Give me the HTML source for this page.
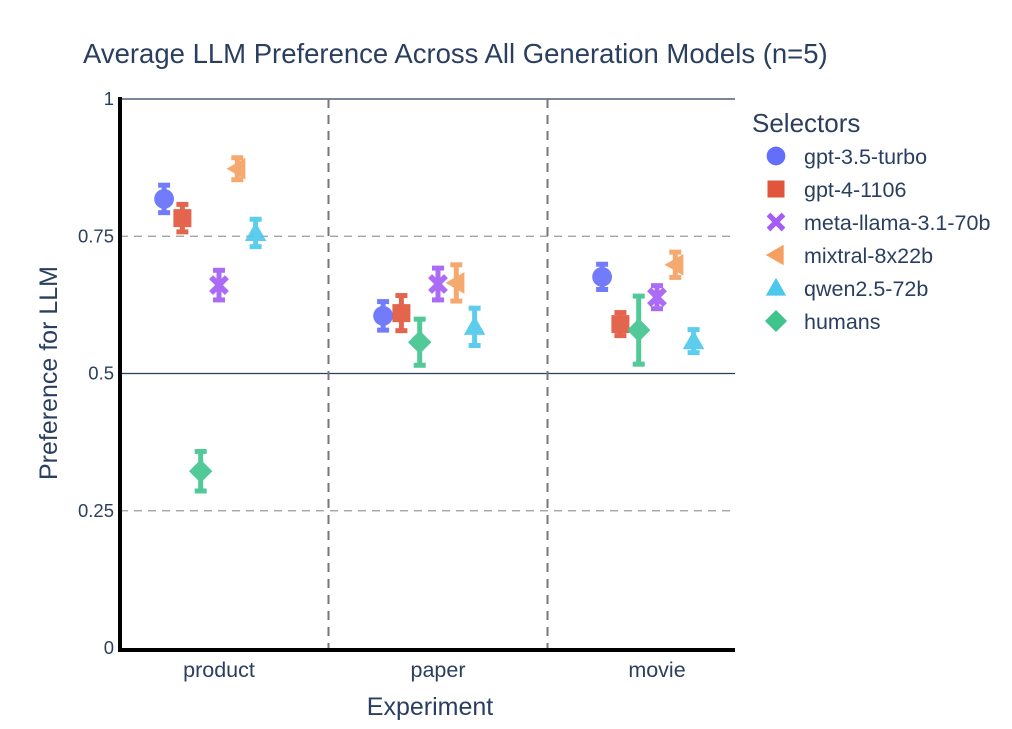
<!DOCTYPE html>
<html><head><meta charset="utf-8"><style>
body{margin:0;background:#fff;font-family:"Liberation Sans",Arial,sans-serif;}
svg text{font-family:"Liberation Sans",Arial,sans-serif;fill:#2a3f5f;}
</style></head><body>
<svg id="chart" width="1012" height="724" xmlns="http://www.w3.org/2000/svg">
<text x="83" y="63" font-size="27.5">Average LLM Preference Across All Generation Models (n=5)</text>
<g id="grid"></g>
<g id="marks"></g>
<g id="legend"></g>
<text x="430" y="715" font-size="25" text-anchor="middle">Experiment</text>
<text transform="translate(57,373) rotate(-90)" font-size="25" text-anchor="middle">Preference for LLM</text>
</svg>
<script>
const categories=["product","paper","movie"];
const series=["gpt-3.5-turbo","gpt-4-1106","meta-llama-3.1-70b","mixtral-8x22b","qwen2.5-72b","humans"];
const gpt35=[0.818,0.605,0.676];
const gpt35Err=[0.025,0.026,0.023];
const gpt4=[0.783,0.610,0.590];
const gpt4Err=[0.025,0.032,0.021];
const llama=[0.661,0.663,0.639];
const llamaErr=[0.027,0.029,0.021];
const mixtral=[0.873,0.665,0.698];
const mixtralErr=[0.020,0.033,0.023];
const qwen=[0.756,0.585,0.559];
const qwenErr=[0.025,0.034,0.021];
const humans=[0.322,0.557,0.579];
const humansErr=[0.036,0.042,0.062];
const yTicks=[0,0.25,0.5,0.75,1];
const yTickLabels=["0","0.25","0.5","0.75","1"];

const NS="http://www.w3.org/2000/svg";
const X0=120,X1=735,Y0=648,Y1=99;
const y=v=>Y0-(Y0-Y1)*v;
const catW=219;
const xc=i=>219+catW*i;
function mk(t,a,p){const e=document.createElementNS(NS,t);for(const k in a)e.setAttribute(k,a[k]);p.appendChild(e);return e;}
const grid=document.getElementById('grid'),marks=document.getElementById('marks'),legend=document.getElementById('legend');
yTicks.forEach((t,i)=>{
  const solid=(t===1||t===0.5);
  if(t>0){const l=mk('line',{x1:X0,x2:X1,y1:y(t),y2:y(t),stroke:solid?'#2a3f5f':'#999','stroke-width':1.2,'stroke-dasharray':solid?'':'8,6'},grid);
  
  }
  const tx=mk('text',{x:114,y:y(t)+6,'font-size':18.5,'text-anchor':'end'},grid);tx.textContent=yTickLabels[i];
  
  
});
for(let i=1;i<3;i++){const l=mk('line',{x1:xc(i)-catW/2,x2:xc(i)-catW/2,y1:Y1,y2:Y0,stroke:'#777','stroke-width':2,'stroke-dasharray':'9,7'},grid);

}
categories.forEach((c,i)=>{const t=mk('text',{x:xc(i),y:677,'font-size':21.5,'text-anchor':'middle'},grid);t.textContent=c;

});
const ax=mk('line',{x1:X0,x2:X0,y1:Y1-2,y2:Y0+3,stroke:'#000','stroke-width':4},grid);


const bx=mk('line',{x1:X0-2,x2:X1,y1:Y0+2,y2:Y0+2,stroke:'#000','stroke-width':4},grid);



const colors=["#636efa","#e0553b","#a35cf5","#f5a060","#4cc8ec","#3fc48e"];
const shapes=["circle","square","x","tri-left","tri-up","diamond"];
const vals=[gpt35,gpt4,llama,mixtral,qwen,humans];
const errs=[gpt35Err,gpt4Err,llamaErr,mixtralErr,qwenErr,humansErr];
const slot=[-3,-2,0,1,2,-1];
function marker(shape,cx,cy,s,color,p){
  let e;
  if(shape==='circle')e=mk('circle',{cx,cy,r:s*0.55},p);
  else if(shape==='square')e=mk('rect',{x:cx-s*0.5,y:cy-s*0.5,width:s,height:s},p);
  else if(shape==='diamond')e=mk('polygon',{points:`${cx},${cy-s*0.65} ${cx+s*0.65},${cy} ${cx},${cy+s*0.65} ${cx-s*0.65},${cy}`},p);
  else if(shape==='tri-up')e=mk('polygon',{points:`${cx},${cy-s*0.6} ${cx+s*0.6},${cy+s*0.45} ${cx-s*0.6},${cy+s*0.45}`},p);
  else if(shape==='tri-left')e=mk('polygon',{points:`${cx-s*0.6},${cy} ${cx+s*0.45},${cy-s*0.6} ${cx+s*0.45},${cy+s*0.6}`},p);
  else {const a=s*0.55,b=s*0.22;e=mk('path',{d:`M${cx-a} ${cy-a+b}L${cx-a+b} ${cy-a}L${cx} ${cy-b}L${cx+a-b} ${cy-a}L${cx+a} ${cy-a+b}L${cx+b} ${cy}L${cx+a} ${cy+a-b}L${cx+a-b} ${cy+a}L${cx} ${cy+b}L${cx-a+b} ${cy+a}L${cx-a} ${cy+a-b}L${cx-b} ${cy}Z`},p);}
  e.setAttribute('fill',color);return e;
}
vals.forEach((arr,s)=>{
  arr.forEach((v,i)=>{
    const g=mk('g',{opacity:0.9},marks);
    
    
    const cx=xc(i)+slot[s]*18.3, e=errs[s][i];
    mk('line',{x1:cx,x2:cx,y1:y(v+e),y2:y(v-e),stroke:colors[s],'stroke-width':5},g);
    mk('line',{x1:cx-6,x2:cx+6,y1:y(v+e),y2:y(v+e),stroke:colors[s],'stroke-width':5},g);
    mk('line',{x1:cx-6,x2:cx+6,y1:y(v-e),y2:y(v-e),stroke:colors[s],'stroke-width':5},g);
    marker(shapes[s],cx,y(v),18,colors[s],g);
  });
});
const lt=mk('text',{x:752,y:132,'font-size':26},legend);lt.textContent="Selectors";


series.forEach((n,s)=>{
  const g=mk('g',{},legend);
  
  
  const cy=156+s*33;
  marker(shapes[s],776,cy,17,colors[s],g);
  const t=mk('text',{x:804,y:cy+8,'font-size':21.5},g);t.textContent=n;
});
</script>
</body></html>
